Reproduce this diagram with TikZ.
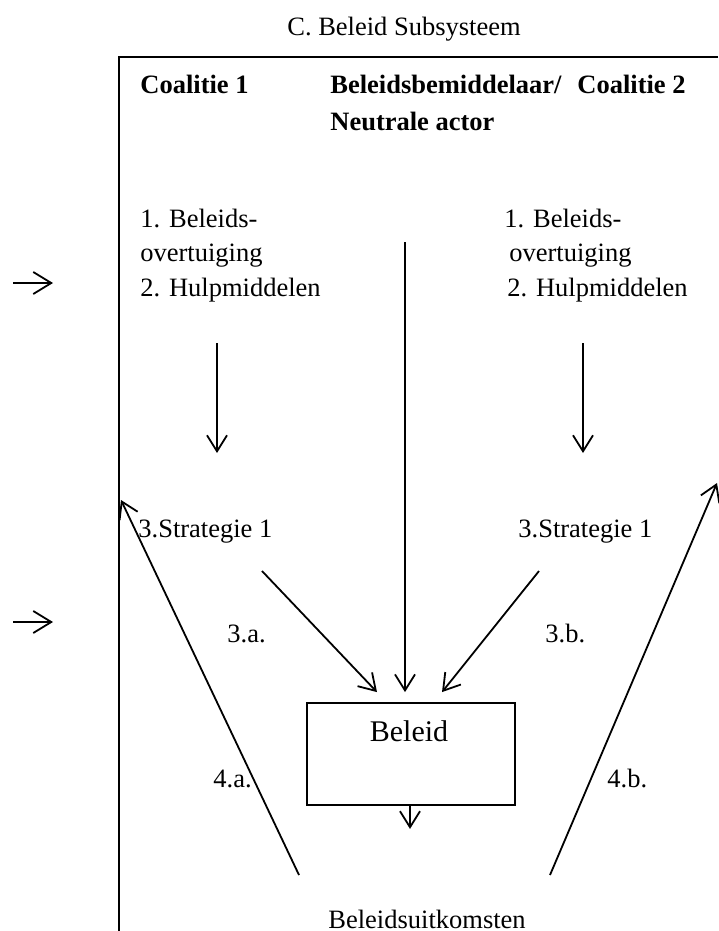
\documentclass[tikz,border=0pt]{standalone}
\usepackage{fontspec}
\setmainfont{Liberation Serif}
\usetikzlibrary{calc,arrows.meta}

\begin{document}
\begin{tikzpicture}[>={Straight Barb[length=8pt,width=10pt]}, x=0.5pt, y=-0.5pt]

  \tikzstyle{txt} = [inner sep=0pt, font={\fontsize{13.25}{16}\selectfont}];
  \tikzstyle{headTxt} = [txt, font={\fontsize{13.25}{16}\selectfont\bfseries}];
  \tikzstyle{policy} = [draw, line width=0.9pt, rectangle, minimum width=104pt, minimum height=51pt, inner sep=0pt];
  \tikzstyle{flowEdgePortion} = [black, line width=0.9pt];
  \tikzstyle{flowEdge} = [flowEdgePortion, ->];
  \tikzstyle{inputEdge} = [flowEdgePortion, -{Straight Barb[length=9pt,width=11pt]}];

  \useasboundingbox (0,0) rectangle (718,931);

  \node[txt, name=title, anchor=base] at (404,36) {C. Beleid Subsysteem};

  % The subsystem frame runs off the page to the right and at the bottom
  \coordinate (frameRight) at (718,57);
  \coordinate (frameCorner) at (119,57);
  \coordinate (frameBottom) at (119,931);
  \draw[flowEdgePortion] (frameRight) -- (frameCorner) -- (frameBottom);

  \node[headTxt, name=coalitionA, anchor=base west] at (140,94) {Coalitie 1};
  \node[headTxt, name=mediator, anchor=base west] at (330,94) {Beleidsbemiddelaar/};
  \node[headTxt, name=neutral, anchor=base west] at (330,131) {Neutrale actor};
  \node[headTxt, name=coalitionB, anchor=base west] at (577,94) {Coalitie 2};

  \node[txt, name=beliefA, anchor=base west] at (140,227) {1. Beleids-};
  \node[txt, name=beliefAcont, anchor=base west] at (140,261.5) {overtuiging};
  \node[txt, name=resourceA, anchor=base west] at (140,296) {2. Hulpmiddelen};
  \node[txt, name=beliefB, anchor=base west] at (504,227) {1. Beleids-};
  \node[txt, name=beliefBcont, anchor=base west] at (509,261.5) {overtuiging};
  \node[txt, name=resourceB, anchor=base west] at (507,296) {2. Hulpmiddelen};

  \node[txt, name=strategyA, anchor=base west] at (138,537) {3.Strategie 1};
  \node[txt, name=strategyB, anchor=base west] at (518,537) {3.Strategie 1};
  \node[txt, name=labelThreeA, anchor=base west] at (227,642) {3.a.};
  \node[txt, name=labelThreeB, anchor=base west] at (545,642) {3.b.};

  \node[policy, name=beleid] at (411,754) {};
  \node[txt, name=beleidText, anchor=base, font={\fontsize{15}{18}\selectfont}] at ($(beleid.north)+(-2,39)$) {Beleid};

  \node[txt, name=labelFourA, anchor=base west] at (213,787) {4.a.};
  \node[txt, name=labelFourB, anchor=base west] at (607,787) {4.b.};
  \node[txt, name=outcome, anchor=base west] at (328,928) {Beleidsuitkomsten};

  % Outside influences enter the subsystem
  \coordinate (inputTopA) at (13,283);
  \coordinate (inputTopB) at (53,283);
  \coordinate (inputLowA) at (13,622);
  \coordinate (inputLowB) at (53,622);
  \draw (inputTopA) edge[inputEdge] (inputTopB);
  \draw (inputLowA) edge[inputEdge] (inputLowB);

  % Beliefs and resources lead to a strategy
  \coordinate (beliefDownA) at (217,343);
  \coordinate (strategyUpA) at (217,453);
  \coordinate (beliefDownB) at (583,343);
  \coordinate (strategyUpB) at (583,453);
  \draw (beliefDownA) edge[flowEdge] (strategyUpA);
  \draw (beliefDownB) edge[flowEdge] (strategyUpB);

  % Both strategies and the mediator act on the policy
  \coordinate (mediatorDown) at (405,242);
  \coordinate (strategyOutA) at (262,571);
  \coordinate (strategyOutB) at (539,571);
  \draw (mediatorDown) edge[flowEdge] ($(beleid.north)+(-6,-10)$);
  \draw (strategyOutA) edge[flowEdge] ($(beleid.north)+(-34,-10)$);
  \draw (strategyOutB) edge[flowEdge] ($(beleid.north)+(31,-10)$);

  % Policy gives outcomes
  \draw ($(beleid.south)+(-1,0)$) edge[flowEdge] ($(beleid.south)+(-1,23)$);

  % Outcomes feed back to the coalitions
  \coordinate (feedbackA) at (299,875);
  \coordinate (feedbackAEnd) at (121,500);
  \coordinate (feedbackB) at (550,875);
  \coordinate (feedbackBEnd) at (717,483);
  \draw (feedbackA) edge[flowEdge] (feedbackAEnd);
  \draw (feedbackB) edge[flowEdge] (feedbackBEnd);

\end{tikzpicture}
\end{document}
